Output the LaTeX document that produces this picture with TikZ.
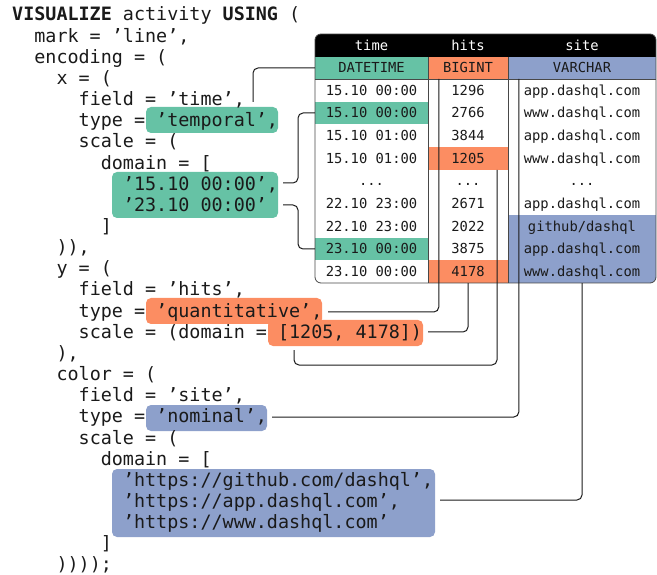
\documentclass[tikz,border=0pt]{standalone}
\usepackage{fontspec}
\newfontfamily\codefont[Ligatures=TeX]{DejaVu Sans Mono}
\definecolor{sgreen}{HTML}{66C2A5}
\definecolor{sorange}{HTML}{FC8D62}
\definecolor{sblue}{HTML}{8DA0CB}
\definecolor{ink}{HTML}{1A1A1A}
\begin{document}
\begin{tikzpicture}[x=1pt,y=-1pt,
  codeline/.style={anchor=base west, inner sep=0pt, font=\codefont\fontsize{18.4}{21}\selectfont, text=ink},
  hl/.style={rounded corners=5pt, inner sep=0pt, draw=none},
  cell/.style={inner sep=0pt, minimum height=22.67pt, text height=12pt, text depth=2pt, font=\codefont\fontsize{13.8}{16}\selectfont, text=ink},
  tcol/.style={cell, minimum width=113pt},
  hcol/.style={cell, minimum width=80pt},
  scol/.style={cell, minimum width=148pt},
  conn/.style={draw=ink, line width=1pt, rounded corners=5pt},
  grid/.style={draw=ink!80, line width=0.7pt}]
\useasboundingbox (0,0) rectangle (657,575);

% highlight boxes
\node[hl, fill=sgreen, minimum width=132pt, minimum height=26pt] (tempbox) at (212,120) {};
\node[hl, fill=sgreen, minimum width=166pt, minimum height=46pt] (datebox) at (195,195) {};
\node[hl, fill=sorange, minimum width=176pt, minimum height=26pt] (quantbox) at (234,311) {};
\node[hl, fill=sorange, minimum width=155pt, minimum height=26pt] (rangebox) at (345.5,333) {};
\node[hl, fill=sblue, minimum width=121pt, minimum height=26pt] (nombox) at (206.5,418) {};
\node[hl, fill=sblue, minimum width=323pt, minimum height=68pt] (urlbox) at (273.5,503) {};

% code
\node[codeline] (L1) at (12,21.0) {\textbf{VISUALIZE} activity \textbf{USING} (};
\node[codeline] (L2) at (34.16,42.15) {mark = 'line',};
\node[codeline] (L3) at (34.16,63.3) {encoding = (};
\node[codeline] (L4) at (56.32,84.45) {x = (};
\node[codeline] (L5) at (78.48,105.6) {field = 'time',};
\node[codeline] (L6) at (78.48,126.75) {type = 'temporal',};
\node[codeline] (L7) at (78.48,147.9) {scale = (};
\node[codeline] (L8) at (100.64,169.05) {domain = [};
\node[codeline] (L9) at (122.8,190.2) {'15.10 00:00',};
\node[codeline] (L10) at (122.8,211.35) {'23.10 00:00'};
\node[codeline] (L11) at (100.64,232.5) {]};
\node[codeline] (L12) at (56.32,253.65) {)),};
\node[codeline] (L13) at (56.32,274.8) {y = (};
\node[codeline] (L14) at (78.48,295.95) {field = 'hits',};
\node[codeline] (L15) at (78.48,317.1) {type = 'quantitative',};
\node[codeline] (L16) at (78.48,338.25) {scale = (domain = [1205, 4178])};
\node[codeline] (L17) at (56.32,359.4) {),};
\node[codeline] (L18) at (56.32,380.55) {color = (};
\node[codeline] (L19) at (78.48,401.7) {field = 'site',};
\node[codeline] (L20) at (78.48,422.85) {type = 'nominal',};
\node[codeline] (L21) at (78.48,444.0) {scale = (};
\node[codeline] (L22) at (100.64,465.15) {domain = [};
\node[codeline] (L23) at (122.8,486.3) {'https://github.com/dashql',};
\node[codeline] (L24) at (122.8,507.45) {'https://app.dashql.com',};
\node[codeline] (L25) at (122.8,528.6) {'https://www.dashql.com'};
\node[codeline] (L26) at (100.64,549.75) {]};
\node[codeline] (L27) at (56.32,570.9) {))));};

% table
\begin{scope}
\clip[rounded corners=6pt] (315,34) rectangle (656,283);
\node[tcol, fill=black, text=white, minimum height=23pt] (htime) at (371.5,45.5) {time};
\node[hcol, fill=black, text=white, minimum height=23pt] (hhits) at (468,45.5) {hits};
\node[scol, fill=black, text=white, minimum height=23pt] (hsite) at (582,45.5) {site};
\node[tcol, fill=sgreen, minimum height=22pt] (dtype) at (371.5,68) {DATETIME};
\node[hcol, fill=sorange, minimum height=22pt] (htype) at (468,68) {BIGINT};
\node[scol, fill=sblue, minimum height=22pt] (stype) at (582,68) {VARCHAR};
% row 1
\node[tcol, fill=white] (r1t) at (371.5,90.33) {15.10 00:00};
\node[hcol, fill=white] (r1h) at (468,90.33) {1296};
\node[scol, fill=white] (r1s) at (582,90.33) {app.dashql.com};
% row 2
\node[tcol, fill=sgreen] (r2t) at (371.5,113) {15.10 00:00};
\node[hcol, fill=white] (r2h) at (468,113) {2766};
\node[scol, fill=white] (r2s) at (582,113) {www.dashql.com};
% row 3
\node[tcol, fill=white] (r3t) at (371.5,135.67) {15.10 01:00};
\node[hcol, fill=white] (r3h) at (468,135.67) {3844};
\node[scol, fill=white] (r3s) at (582,135.67) {app.dashql.com};
% row 4
\node[tcol, fill=white] (r4t) at (371.5,158.33) {15.10 01:00};
\node[hcol, fill=sorange] (r4h) at (468,158.33) {1205};
\node[scol, fill=white] (r4s) at (582,158.33) {www.dashql.com};
% row 5
\node[tcol, fill=white] (r5t) at (371.5,181) {...};
\node[hcol, fill=white] (r5h) at (468,181) {...};
\node[scol, fill=white] (r5s) at (582,181) {...};
% row 6
\node[tcol, fill=white] (r6t) at (371.5,203.67) {22.10 23:00};
\node[hcol, fill=white] (r6h) at (468,203.67) {2671};
\node[scol, fill=white] (r6s) at (582,203.67) {app.dashql.com};
% row 7
\node[tcol, fill=white] (r7t) at (371.5,226.33) {22.10 23:00};
\node[hcol, fill=white] (r7h) at (468,226.33) {2022};
\node[scol, fill=sblue] (r7s) at (582,226.33) {github/dashql};
% row 8
\node[tcol, fill=sgreen] (r8t) at (371.5,249) {23.10 00:00};
\node[hcol, fill=white] (r8h) at (468,249) {3875};
\node[scol, fill=sblue] (r8s) at (582,249) {app.dashql.com};
% row 9
\node[tcol, fill=white] (r9t) at (371.5,271.67) {23.10 00:00};
\node[hcol, fill=sorange] (r9h) at (468,271.67) {4178};
\node[scol, fill=sblue] (r9s) at (582,271.67) {www.dashql.com};
\end{scope}
\draw[grid] (dtype.north east) -- (r9t.south east);
\draw[grid] (htype.north east) -- (r9h.south east);
\draw[grid] (dtype.south west) -- (stype.south east);
\draw[draw=ink!80, line width=0.8pt, rounded corners=6pt] (315,34) rectangle (656,283);

% connectors
\coordinate (c1) at (253,102);
\draw[conn] (c1) |- (dtype.west);
\coordinate (c2) at (283,183);
\draw[conn] (c2) -- ++(15,0) |- (r2t.west);
\coordinate (c3) at (283,205);
\draw[conn] (c3) -- ++(15,0) |- (r8t.west);
\coordinate (c4) at (328,312);
\draw[conn] (c4) -| ([xshift=11pt]r1h.north west);
\coordinate (c5) at (428,332);
\draw[conn] (c5) -| (r9h.south);
\coordinate (c6) at (294,350);
\coordinate (c6b) at (497,365);
\draw[conn] (c6) |- (c6b) -- ([xshift=29pt]r4h.south);
\coordinate (c7) at (272,417);
\draw[conn] (c7) -| ([xshift=11pt]r1s.north west);
\coordinate (c8) at (440,500);
\draw[conn] (c8) -| (r9s.south);
\end{tikzpicture}
\end{document}
